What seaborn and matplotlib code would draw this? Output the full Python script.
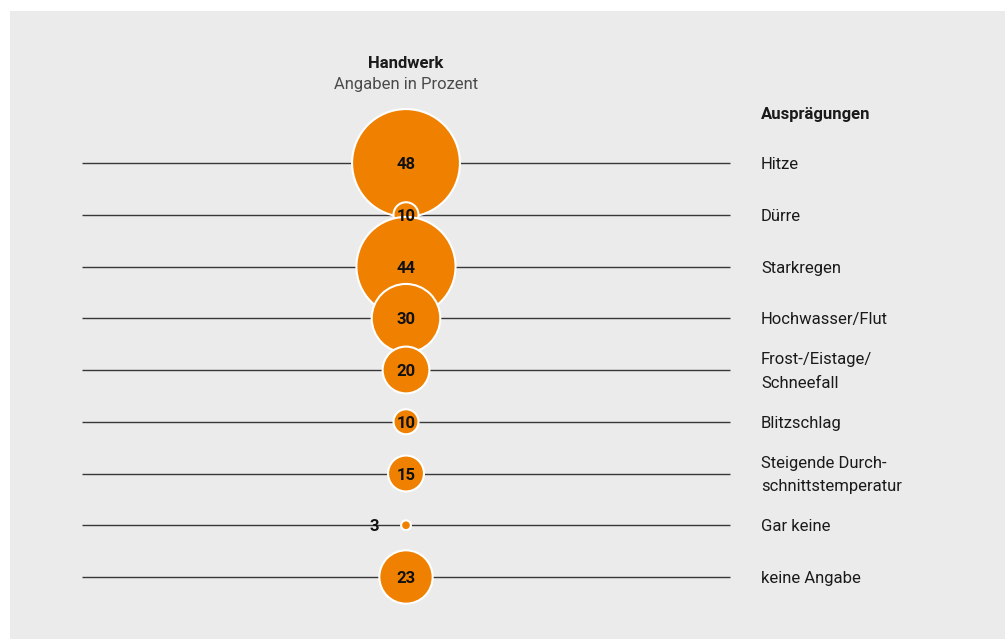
import pandas as pd
import numpy as np

import matplotlib.pyplot as plt
import seaborn as sns

# Daten
categories = ['Hitze', 'Dürre', 'Starkregen', 'Hochwasser/Flut', 'Frost-/Eistage/\nSchneefall',
              'Blitzschlag', 'Steigende Durch-\nschnittstemperatur', 'Gar keine', 'keine Angabe']
values = [48, 10, 44, 30, 20, 10, 15, 3, 23]
group = 'Handwerk'
subtitle = 'Angaben in Prozent'
legend_title = 'Ausprägungen'

orange = '#f08000'
bg = '#ebebeb'

sns.set_style('white')
plt.rcParams['font.family'] = ['Roboto', 'DejaVu Sans']

df = pd.DataFrame({'cat': categories, 'val': values})
df['row'] = np.arange(len(df))
df['x'] = 406
# Radius in px ~ 1.6 + 1.09 * Wert -> Flaeche fuer seaborn
df['area'] = (1.6 + 1.09 * df['val']) ** 2

fig = plt.figure(figsize=(10.05, 6.39), dpi=100)
ax = fig.add_axes([10 / 1005, 0, 995 / 1005, 628 / 639])
ax.set_facecolor(bg)

# pixel-ähnliche Skala: Zeilenabstand ~51.75 px, erste Zeile bei y=163
step = 51.75
ax.set_xlim(10, 1005)
ax.set_ylim((639 - 163) / step, (11 - 163) / step)
dy = 1.5 / step  # Text etwas tiefer setzen

# horizontale Linien
ax.hlines(df['row'], 82, 730, color='#383838', lw=1, zorder=1)

# Blasen
k = (2 * 0.72) ** 2
amin, amax = df['area'].min(), df['area'].max()
sns.scatterplot(data=df, x='x', y='row', size='area', sizes=(k * amin, k * amax),
                size_norm=(amin, amax), color=orange, edgecolor='white', linewidth=1.5,
                legend=False, ax=ax, zorder=2)

for _, r in df.iterrows():
    if r['val'] < 5:
        ax.annotate(str(r['val']), (r['x'], r['row'] + dy), xytext=(-23, 0), textcoords='offset points',
                    ha='center', va='center', fontsize=12, fontweight='bold', color='#111111', zorder=3)
    else:
        ax.text(r['x'], r['row'] + dy, str(r['val']), ha='center', va='center', fontsize=12,
                fontweight='bold', color='#111111', zorder=3)
    ax.text(761, r['row'] + dy, r['cat'], ha='left', va='center', fontsize=12, color='#1a1a1a',
            linespacing=1.7)

ax.text(406, (63 - 163) / step, group, ha='center', va='center', fontsize=12,
        fontweight='bold', color='#1a1a1a')
ax.text(406, (84 - 163) / step, subtitle, ha='center', va='center', fontsize=12, color='#4a4a4a')
ax.text(761, (114 - 163) / step, legend_title, ha='left', va='center', fontsize=12,
        fontweight='bold', color='#1a1a1a')

ax.set_xticks([])
ax.set_yticks([])
ax.set_xlabel('')
ax.set_ylabel('')
sns.despine(ax=ax, left=True, bottom=True)

fig.savefig('out.png', dpi=100, facecolor='white')
